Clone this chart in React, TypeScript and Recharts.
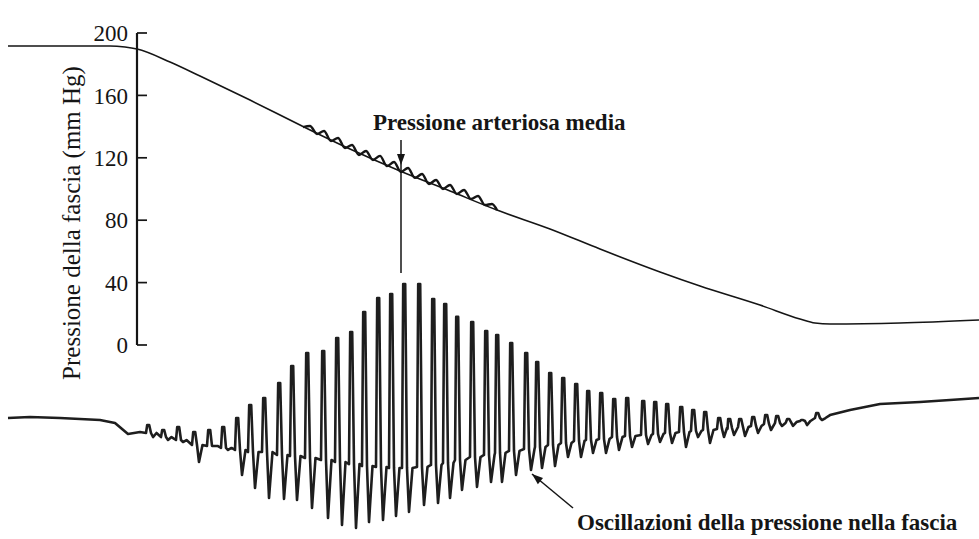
import React from "react";
import { LineChart, Line, XAxis, YAxis, ReferenceLine, ReferenceDot } from "recharts";

const INK = "#151515";
const SERIF = '"Liberation Serif", "Times New Roman", serif';

// cuff pressure (mm Hg) against time (s)
const CUFF_T = [0.8, 11.0, 12.5, 13.7, 17.0, 20.0, 25.0, 30.0, 35.0, 40.0, 45.0, 49.7, 55.0, 60.0, 66.0, 70.0, 76.0, 80.0, 81.5, 83.0, 90.0, 97.9];
const CUFF_MMHG = [191.7, 191.7, 191.0, 189.7, 181.4, 172.4, 157.0, 141.0, 125.6, 111.5, 98.7, 86.5, 74.4, 61.5, 46.8, 37.8, 25.6, 16.7, 14.1, 13.5, 14.1, 16.0];

// pulse ripple riding on the cuff pressure while the arteries open
const RIPPLE_T = [30.3, 31.0, 31.7, 32.4, 33.1, 33.8, 34.5, 35.2, 35.9, 36.6, 37.3, 38.0, 38.7, 39.4, 40.1, 40.8, 41.5, 42.2, 42.9, 43.6, 44.3, 45.0, 45.7, 46.4, 47.1, 47.8, 48.5, 49.2, 49.7];
const RIPPLE_MMHG = [139.7, 140.4, 135.3, 137.2, 130.8, 132.7, 126.3, 128.2, 121.8, 124.4, 118.6, 121.2, 114.7, 117.3, 110.9, 113.5, 107.1, 109.6, 103.2, 105.8, 100.0, 102.6, 96.8, 99.4, 93.6, 95.5, 89.7, 90.4, 86.5];

// oscillation trace: quiet lead-in, one entry per beat, quiet tail
const LEAD_T = [0.8, 3.0, 6.0, 10.0, 11.5, 12.8, 14.0];
const LEAD_A = [17.3, 17.9, 17.3, 16.0, 14.1, 7.1, 8.3];

const BEAT_T = [14.8, 16.3, 17.8, 19.4, 20.9, 22.3, 23.7, 25.0, 26.4, 27.9, 29.2, 30.7, 32.3, 33.7, 35.1, 36.4, 37.8, 39.1, 40.4, 41.9, 43.3, 44.5, 45.7, 47.2, 48.6, 49.7, 51.1, 52.6, 53.7, 55.0, 56.3, 57.6, 58.8, 60.1, 61.4, 62.7, 64.3, 65.5, 66.7, 68.1, 69.3, 70.5, 71.9, 72.9, 74.0, 75.3, 76.6, 77.7, 78.8, 80.2, 81.7];
const BEAT_TOP = [12.8, 9.6, 11.5, 8.3, 9.6, 11.5, 17.3, 25.6, 30.1, 39.7, 50.6, 59.0, 60.3, 68.6, 72.4, 85.3, 94.2, 96.8, 103.2, 103.2, 93.6, 90.4, 82.1, 78.8, 73.1, 70.5, 65.4, 59.0, 53.2, 46.2, 42.9, 39.1, 34.6, 33.3, 29.5, 30.1, 28.2, 27.6, 26.3, 24.4, 22.4, 21.2, 17.3, 16.7, 16.7, 17.9, 19.2, 18.6, 16.7, 16.0, 20.5];
const BEAT_BOTTOM = [5.1, 3.2, 1.9, -10.9, -0.6, -3.2, -19.2, -27.6, -34.0, -34.6, -35.3, -40.4, -46.8, -51.3, -53.2, -49.4, -48.1, -45.5, -42.9, -38.5, -37.2, -34.0, -28.8, -26.9, -23.7, -23.7, -19.2, -16.0, -14.7, -13.5, -7.7, -7.7, -5.1, -5.1, -3.2, -1.3, 0.6, 1.9, 1.3, -1.3, 5.1, 1.3, 5.1, 6.4, 5.8, 7.7, 9.6, 12.2, 12.2, 12.8, 16.0];
const BEAT_BASE = [7.7, 5.1, 3.2, 0, -0.6, -1.9, -3.2, -4.5, -4.5, -6.4, -7.1, -8.3, -9.6, -10.9, -12.2, -13.5, -14.1, -14.7, -14.7, -14.1, -12.8, -11.5, -9.6, -7.7, -6.4, -5.1, -3.8, -2.6, -1.3, 0, 1.3, 2.6, 3.2, 3.8, 5.1, 5.8, 6.4, 7.1, 7.7, 8.3, 9.0, 9.6, 10.3, 10.9, 11.5, 12.2, 13.5, 14.1, 14.7, 15.4, 17.3];

const TAIL_T = [83.0, 85.0, 88.0, 92.0, 95.0, 97.9];
const TAIL_A = [19.2, 22.4, 26.3, 27.6, 28.8, 30.1];

const Y_TICKS = [0, 40, 80, 120, 160, 200];

const AXIS_T = 13.7;
const MAP_T = 40.1;

// each beat: steep upstroke, narrow crest, drop through the baseline, recovery
const oscPoints = [
  ...LEAD_T.map((t, i) => ({ t, a: LEAD_A[i] })),
  ...BEAT_T.flatMap((t, i) => [
    { t: t - 0.2, a: BEAT_BASE[i] },
    { t: t - 0.08, a: BEAT_TOP[i] },
    { t: t + 0.12, a: BEAT_TOP[i] },
    { t: t + 0.3, a: BEAT_BASE[i] },
    { t: t + 0.5, a: BEAT_BOTTOM[i] },
    { t: t + 0.85, a: BEAT_BASE[i] },
  ]),
  ...TAIL_T.map((t, i) => ({ t, a: TAIL_A[i] })),
];

// one table keyed by time; each series leaves the others' rows empty
const rows = new Map<number, any>();
const put = (t: number, key: string, value: number) => {
  const k = Math.round(t * 100) / 100;
  const row = rows.get(k) ?? { t: k };
  row[key] = value;
  rows.set(k, row);
};
CUFF_T.forEach((t, i) => put(t, "cuff", CUFF_MMHG[i]));
RIPPLE_T.forEach((t, i) => put(t, "ripple", RIPPLE_MMHG[i]));
oscPoints.forEach((p) => put(p.t, "osc", p.a));
const data = [...rows.values()].sort((a, b) => a.t - b.t);

const textShape =
  (text: string, bold: boolean, size: number, rotate = 0, anchor = "start") =>
  (p: any) => (
    <text
      x={p.cx}
      y={p.cy}
      fill={INK}
      fontFamily={SERIF}
      style={{ fontFamily: SERIF }}
      fontWeight={bold ? 700 : 400}
      fontSize={size}
      textAnchor={anchor}
      dominantBaseline="central"
      transform={rotate ? `rotate(${rotate}, ${p.cx}, ${p.cy})` : undefined}
    >
      {text}
    </text>
  );

const downArrowHead = (p: any) => (
  <polygon
    points={`${p.cx - 4},${p.cy - 11} ${p.cx + 4},${p.cy - 11} ${p.cx},${p.cy}`}
    fill={INK}
  />
);

const slantArrowHead = (p: any) => (
  <polygon
    points={`${p.cx},${p.cy} ${p.cx - 11},${p.cy - 4} ${p.cx - 11},${p.cy + 4}`}
    fill={INK}
    transform={`rotate(-140, ${p.cx}, ${p.cy})`}
  />
);

export default function App() {
  return (
    <div style={{ position: "absolute", left: 0, top: 0, background: "#fff" }}>
      <LineChart width={979} height={539} data={data} margin={{ top: 0, right: 0, bottom: 0, left: 0 }}>
        <XAxis type="number" dataKey="t" domain={[0, 97.9]} hide />
        <YAxis yAxisId="cuff" type="number" domain={[-124.36, 221.15]} hide />
        <YAxis yAxisId="osc" type="number" domain={[-60.26, 285.26]} hide />

        {/* pressure axis with ticks on the inside */}
        <ReferenceLine
          yAxisId="cuff"
          segment={[{ x: AXIS_T, y: 0 }, { x: AXIS_T, y: 200 }]}
          stroke={INK}
          strokeWidth={2.2}
          ifOverflow="visible"
        />
        {Y_TICKS.map((v) => (
          <ReferenceLine
            key={`tick-${v}`}
            yAxisId="cuff"
            segment={[{ x: AXIS_T, y: v }, { x: AXIS_T + 1.0, y: v }]}
            stroke={INK}
            strokeWidth={1.7}
            ifOverflow="visible"
            label={{
              value: String(v),
              position: "left",
              offset: 9,
              fontSize: 23,
              fontFamily: SERIF,
              fill: INK,
            }}
          />
        ))}
        <ReferenceDot
          yAxisId="cuff"
          x={7.2}
          y={78.2}
          r={0}
          ifOverflow="visible"
          shape={textShape("Pressione della fascia (mm Hg)", false, 25, -90, "middle")}
        />

        <Line
          yAxisId="cuff"
          dataKey="cuff"
          type="monotone"
          stroke={INK}
          strokeWidth={1.6}
          dot={false}
          activeDot={false}
          connectNulls
          isAnimationActive={false}
        />
        <Line
          yAxisId="cuff"
          dataKey="ripple"
          type="monotone"
          stroke={INK}
          strokeWidth={2.4}
          dot={false}
          activeDot={false}
          connectNulls
          isAnimationActive={false}
        />
        <Line
          yAxisId="osc"
          dataKey="osc"
          type="linear"
          stroke="#1e1e1e"
          strokeWidth={2.6}
          strokeLinejoin="round"
          dot={false}
          activeDot={false}
          connectNulls
          isAnimationActive={false}
        />

        {/* mean arterial pressure marker */}
        <ReferenceLine
          yAxisId="cuff"
          segment={[{ x: MAP_T, y: 131.4 }, { x: MAP_T, y: 46.2 }]}
          stroke={INK}
          strokeWidth={1.5}
          ifOverflow="visible"
        />
        <ReferenceDot yAxisId="cuff" x={MAP_T} y={115.4} r={0} ifOverflow="visible" shape={downArrowHead} />
        <ReferenceDot
          yAxisId="cuff"
          x={37.3}
          y={142.9}
          r={0}
          ifOverflow="visible"
          shape={textShape("Pressione arteriosa media", true, 23)}
        />

        {/* pointer to the oscillation trace */}
        <ReferenceLine
          yAxisId="osc"
          segment={[{ x: 57.3, y: -40.4 }, { x: 53.2, y: -18.6 }]}
          stroke={INK}
          strokeWidth={1.5}
          ifOverflow="visible"
        />
        <ReferenceDot yAxisId="osc" x={53.2} y={-18.6} r={0} ifOverflow="visible" shape={slantArrowHead} />
        <ReferenceDot
          yAxisId="osc"
          x={57.7}
          y={-50.0}
          r={0}
          ifOverflow="visible"
          shape={textShape("Oscillazioni della pressione nella fascia", true, 23)}
        />
      </LineChart>
    </div>
  );
}
